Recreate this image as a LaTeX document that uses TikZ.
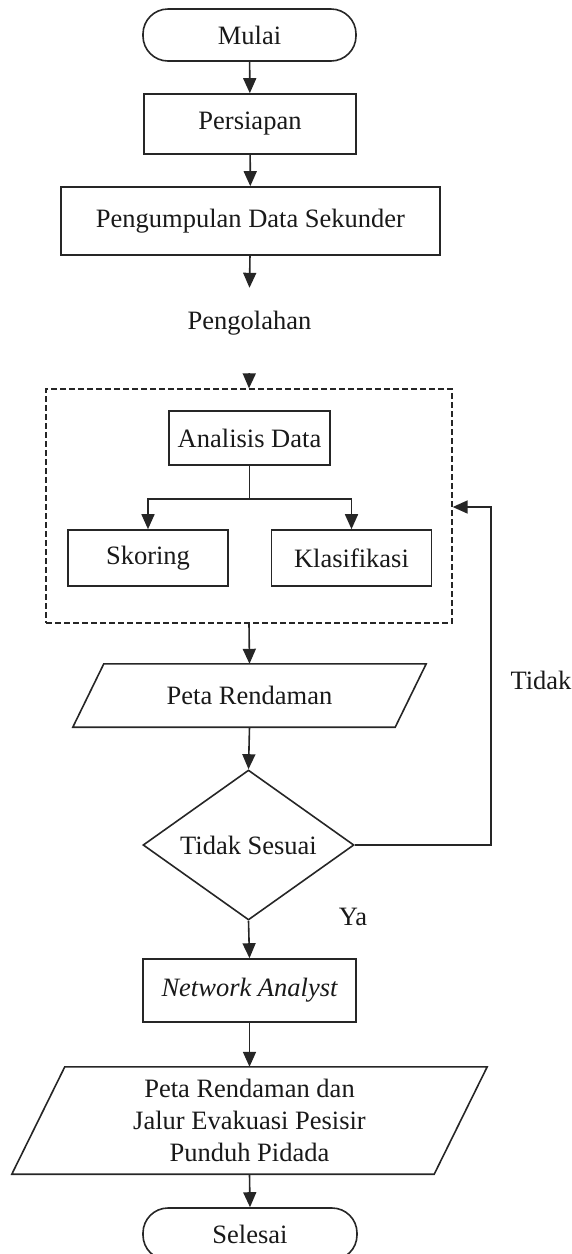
\documentclass[tikz,border=0pt]{standalone}
\usepackage{fontspec}
\setmainfont{Liberation Serif}
\usetikzlibrary{arrows.meta,shapes.geometric,calc}
\begin{document}
\begin{tikzpicture}[x=1pt,y=-1pt,
  every node/.style={font=\fontsize{26.5}{32}\selectfont, text=black!90},
  ln/.style={draw=black!85, line width=1.6pt},
  arr/.style={ln, -{Triangle[width=13pt,length=15pt]}},
  boxn/.style={ln, rectangle, inner sep=0pt},
  term/.style={ln, rectangle, rounded corners=25pt, inner sep=0pt},
  paran/.style={draw=none, inner sep=0pt},
  dec/.style={ln, diamond, aspect=1.4, inner sep=0pt},
  grp/.style={draw=black!85, line width=1.3pt, dash pattern=on 6pt off 3pt, rectangle, inner sep=0pt},
  lbl/.style={inner sep=0pt}
]
\useasboundingbox (0,0) rectangle (572,1254);

\node[term, minimum width=213pt, minimum height=52pt] (mulai) at (249.5,35) {Mulai};
\node[boxn, minimum width=212pt, minimum height=60pt] (pers) at (250,124) {Persiapan};
\node[boxn, minimum width=379pt, minimum height=68pt] (peng) at (250.5,221) {Pengumpulan Data Sekunder};
\node[lbl, minimum height=70pt] (olah) at (249.5,323) {Pengolahan};

\node[grp, minimum width=406pt, minimum height=234pt] (proc) at (249,506) {};
\node[boxn, minimum width=161pt, minimum height=54pt] (anal) at (249.5,438) {Analisis Data};
\node[boxn, minimum width=160pt, minimum height=56pt] (skor) at (148,558) {Skoring};
\node[boxn, minimum width=160pt, minimum height=56pt] (klas) at (351.5,558) {Klasifikasi};

\node[paran, minimum width=322pt, minimum height=63pt] (peta) at (249.5,695.5) {Peta Rendaman};
\draw[ln] ([xshift=15.5pt]peta.north west) -- ([xshift=15.5pt]peta.north east)
  -- ([xshift=-15.5pt]peta.south east) -- ([xshift=-15.5pt]peta.south west) -- cycle;

\node[dec, minimum width=211pt, minimum height=150pt] (dia) at (248.5,845) {Tidak Sesuai};
\node[boxn, minimum width=213pt, minimum height=63pt] (net) at (249.5,990.5) {\itshape Network Analyst};

\node[paran, minimum width=422pt, minimum height=107pt, align=center] (out) at (249.5,1120.5)
  {Peta Rendaman dan\\Jalur Evakuasi Pesisir\\Punduh Pidada};
\draw[ln] ([xshift=26.5pt]out.north west) -- ([xshift=26.5pt]out.north east)
  -- ([xshift=-26.5pt]out.south east) -- ([xshift=-26.5pt]out.south west) -- cycle;

\node[term, minimum width=214pt, minimum height=52pt] (sel) at (250,1234) {Selesai};

\node[lbl] (tidak) at (541,680) {Tidak};
\node[lbl] (ya) at (353,917) {Ya};

% connectors
\draw[arr] (mulai) -- (pers);
\draw[arr] (pers) -- (peng);
\draw[arr] (peng) -- (olah.north);
\draw[arr, shorten <=15pt] (olah.south) -- (proc.north);
\draw[ln] (anal.south) -- ++(0,33) coordinate (br);
\draw[arr] (br) -| (skor.north);
\draw[arr] (br) -| (klas.north);
\draw[arr] (proc.south) -- (peta.north);
\draw[arr] (peta.south) -- (dia.north);
\coordinate (fbc) at (491,507);
\draw[arr] (dia.east) -| (fbc) -- (proc.east |- fbc);
\draw[arr] (dia.south) -- (net.north);
\draw[arr] (net.south) -- (out.north);
\draw[arr] (out.south) -- (sel.north);
\end{tikzpicture}
\end{document}
